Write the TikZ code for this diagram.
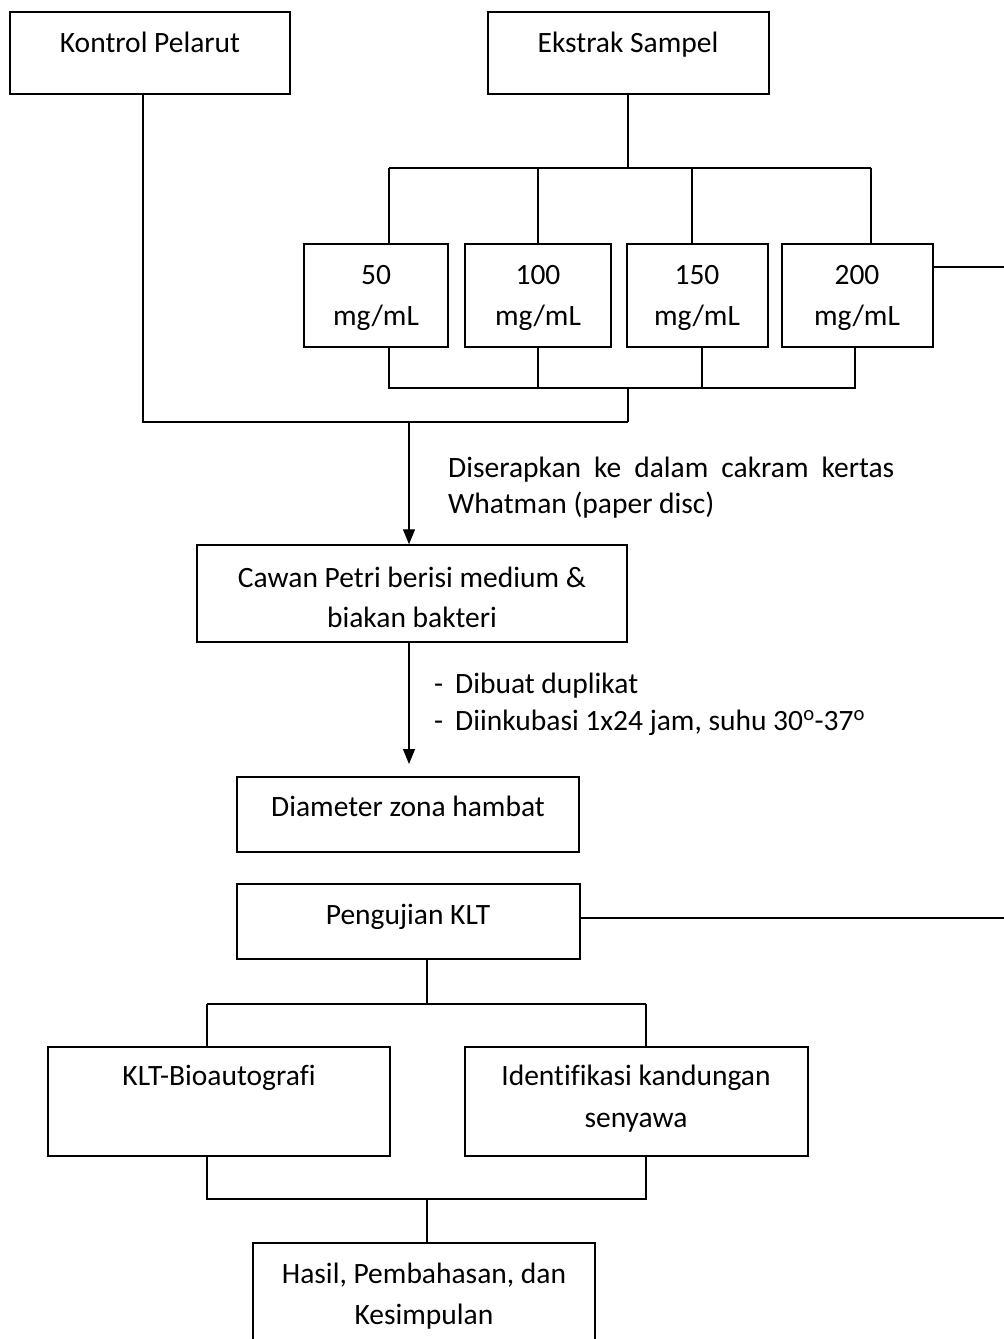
\documentclass[tikz,border=0pt]{standalone}
\usepackage{fontspec}
\setmainfont{Carlito}[Ligatures={NoCommon}]
\usetikzlibrary{fit,arrows.meta}
\begin{document}
\begin{tikzpicture}[x=1pt,y=-1pt,
  box/.style={draw, line width=1.5pt, inner sep=0pt, rectangle},
  conn/.style={line width=1.4pt},
  arr/.style={line width=1.4pt, -{Triangle[length=15pt,width=12pt]}},
  txt/.style={anchor=base, inner sep=0pt, font=\fontsize{29.5}{36}\selectfont},
  ltxt/.style={anchor=base west, inner sep=0pt, font=\fontsize{29.5}{36}\selectfont}]
\clip (0,0) rectangle (1004,1339);
\fill[white] (0,0) rectangle (1004,1339);
% boxes
\node[box, fit={(10,12) (290,94)}] (kp) {};
\node[box, fit={(488,12) (769,94)}] (es) {};
\node[box, fit={(304,244) (448,347)}] (c50) {};
\node[box, fit={(465,244) (611,347)}] (c100) {};
\node[box, fit={(627,244) (768,347)}] (c150) {};
\node[box, fit={(782,244) (933,347)}] (c200) {};
\node[box, fit={(197,545) (627,642)}] (cawan) {};
\node[box, fit={(237,777) (579,852)}] (diam) {};
\node[box, fit={(237,884) (580,959)}] (klt) {};
\node[box, fit={(48,1047) (390,1156)}] (bio) {};
\node[box, fit={(465,1047) (808,1156)}] (iden) {};
\node[box, fit={(253,1243) (595,1352)}] (hasil) {};
% texts
\node[txt] (tkp) at (150,52) {Kontrol Pelarut};
\node[txt] (tes) at (628,52) {Ekstrak Sampel};
\node[txt] (t50a) at (376,284) {50};
\node[txt] (t50b) at (376,325) {mg/mL};
\node[txt] (t100a) at (538,284) {100};
\node[txt] (t100b) at (538,325) {mg/mL};
\node[txt] (t150a) at (697,284) {150};
\node[txt] (t150b) at (697,325) {mg/mL};
\node[txt] (t200a) at (857,284) {200};
\node[txt] (t200b) at (857,325) {mg/mL};
\node[ltxt] (l1a) at (448,477) {\makebox[446pt][s]{Diserapkan ke dalam cakram kertas}};
\node[ltxt] (l1b) at (448,513) {Whatman (paper disc)};
\node[txt] (tcaa) at (412,587) {Cawan Petri berisi medium \&};
\node[txt] (tcab) at (412,627) {biakan bakteri};
\node[ltxt] (l2a) at (434,693) {-\hspace{12pt}Dibuat duplikat};
\node[ltxt] (l2b) at (434,730) {-\hspace{12pt}Diinkubasi 1x24 jam, suhu 30\textsuperscript{o}-37\textsuperscript{o}};
\node[txt] (tdi) at (408,816) {Diameter zona hambat};
\node[txt] (tkl) at (408,924) {Pengujian KLT};
\node[txt] (tbi) at (219,1085) {KLT-Bioautografi};
\node[txt] (tida) at (636,1085) {Identifikasi kandungan};
\node[txt] (tidb) at (636,1127) {senyawa};
\node[txt] (thaa) at (424,1283) {Hasil, Pembahasan, dan};
\node[txt] (thab) at (424,1324) {Kesimpulan};
% junction coordinates
\coordinate (j1) at (143,422);
\coordinate (j2) at (628,422);
\coordinate (t0) at (628,168);
\coordinate (tl) at (389,168);
\coordinate (tr) at (871,168);
\coordinate (v2) at (538,168);
\coordinate (v3) at (692,168);
\coordinate (bl) at (389,388);
\coordinate (br) at (855,388);
\coordinate (b2) at (538,388);
\coordinate (b3) at (702,388);
\coordinate (bm) at (628,388);
\coordinate (e1) at (1004,267);
\coordinate (e2) at (1004,918);
\coordinate (a1) at (409,422);
\coordinate (a2) at (409,764);
\coordinate (k1) at (427,1004);
\coordinate (kl) at (207,1004);
\coordinate (kr) at (646,1004);
\coordinate (h1) at (427,1199);
\coordinate (hl) at (207,1199);
\coordinate (hr) at (646,1199);
% connectors
\draw[conn] (kp.south -| j1) -- (j1) -- (j2);
\draw[conn] (es.south -| t0) -- (t0);
\draw[conn] (tl) -- (tr);
\draw[conn] (tl) -- (c50.north -| tl);
\draw[conn] (v2) -- (c100.north -| v2);
\draw[conn] (v3) -- (c150.north -| v3);
\draw[conn] (tr) -- (c200.north -| tr);
\draw[conn] (c50.south -| bl) -- (bl) -- (br) -- (c200.south -| br);
\draw[conn] (c100.south -| b2) -- (b2);
\draw[conn] (c150.south -| b3) -- (b3);
\draw[conn] (bm) -- (j2);
\draw[conn] (c200.east |- e1) -- (e1);
\draw[arr] (a1) -- (cawan.north -| a1);
\draw[arr] (cawan.south -| a2) -- (a2);
\draw[conn] (klt.east |- e2) -- (e2);
\draw[conn] (klt.south -| k1) -- (k1);
\draw[conn] (kl) -- (kr);
\draw[conn] (kl) -- (bio.north -| kl);
\draw[conn] (kr) -- (iden.north -| kr);
\draw[conn] (bio.south -| hl) -- (hl) -- (hr) -- (iden.south -| hr);
\draw[conn] (h1) -- (hasil.north -| h1);
\end{tikzpicture}
\end{document}
